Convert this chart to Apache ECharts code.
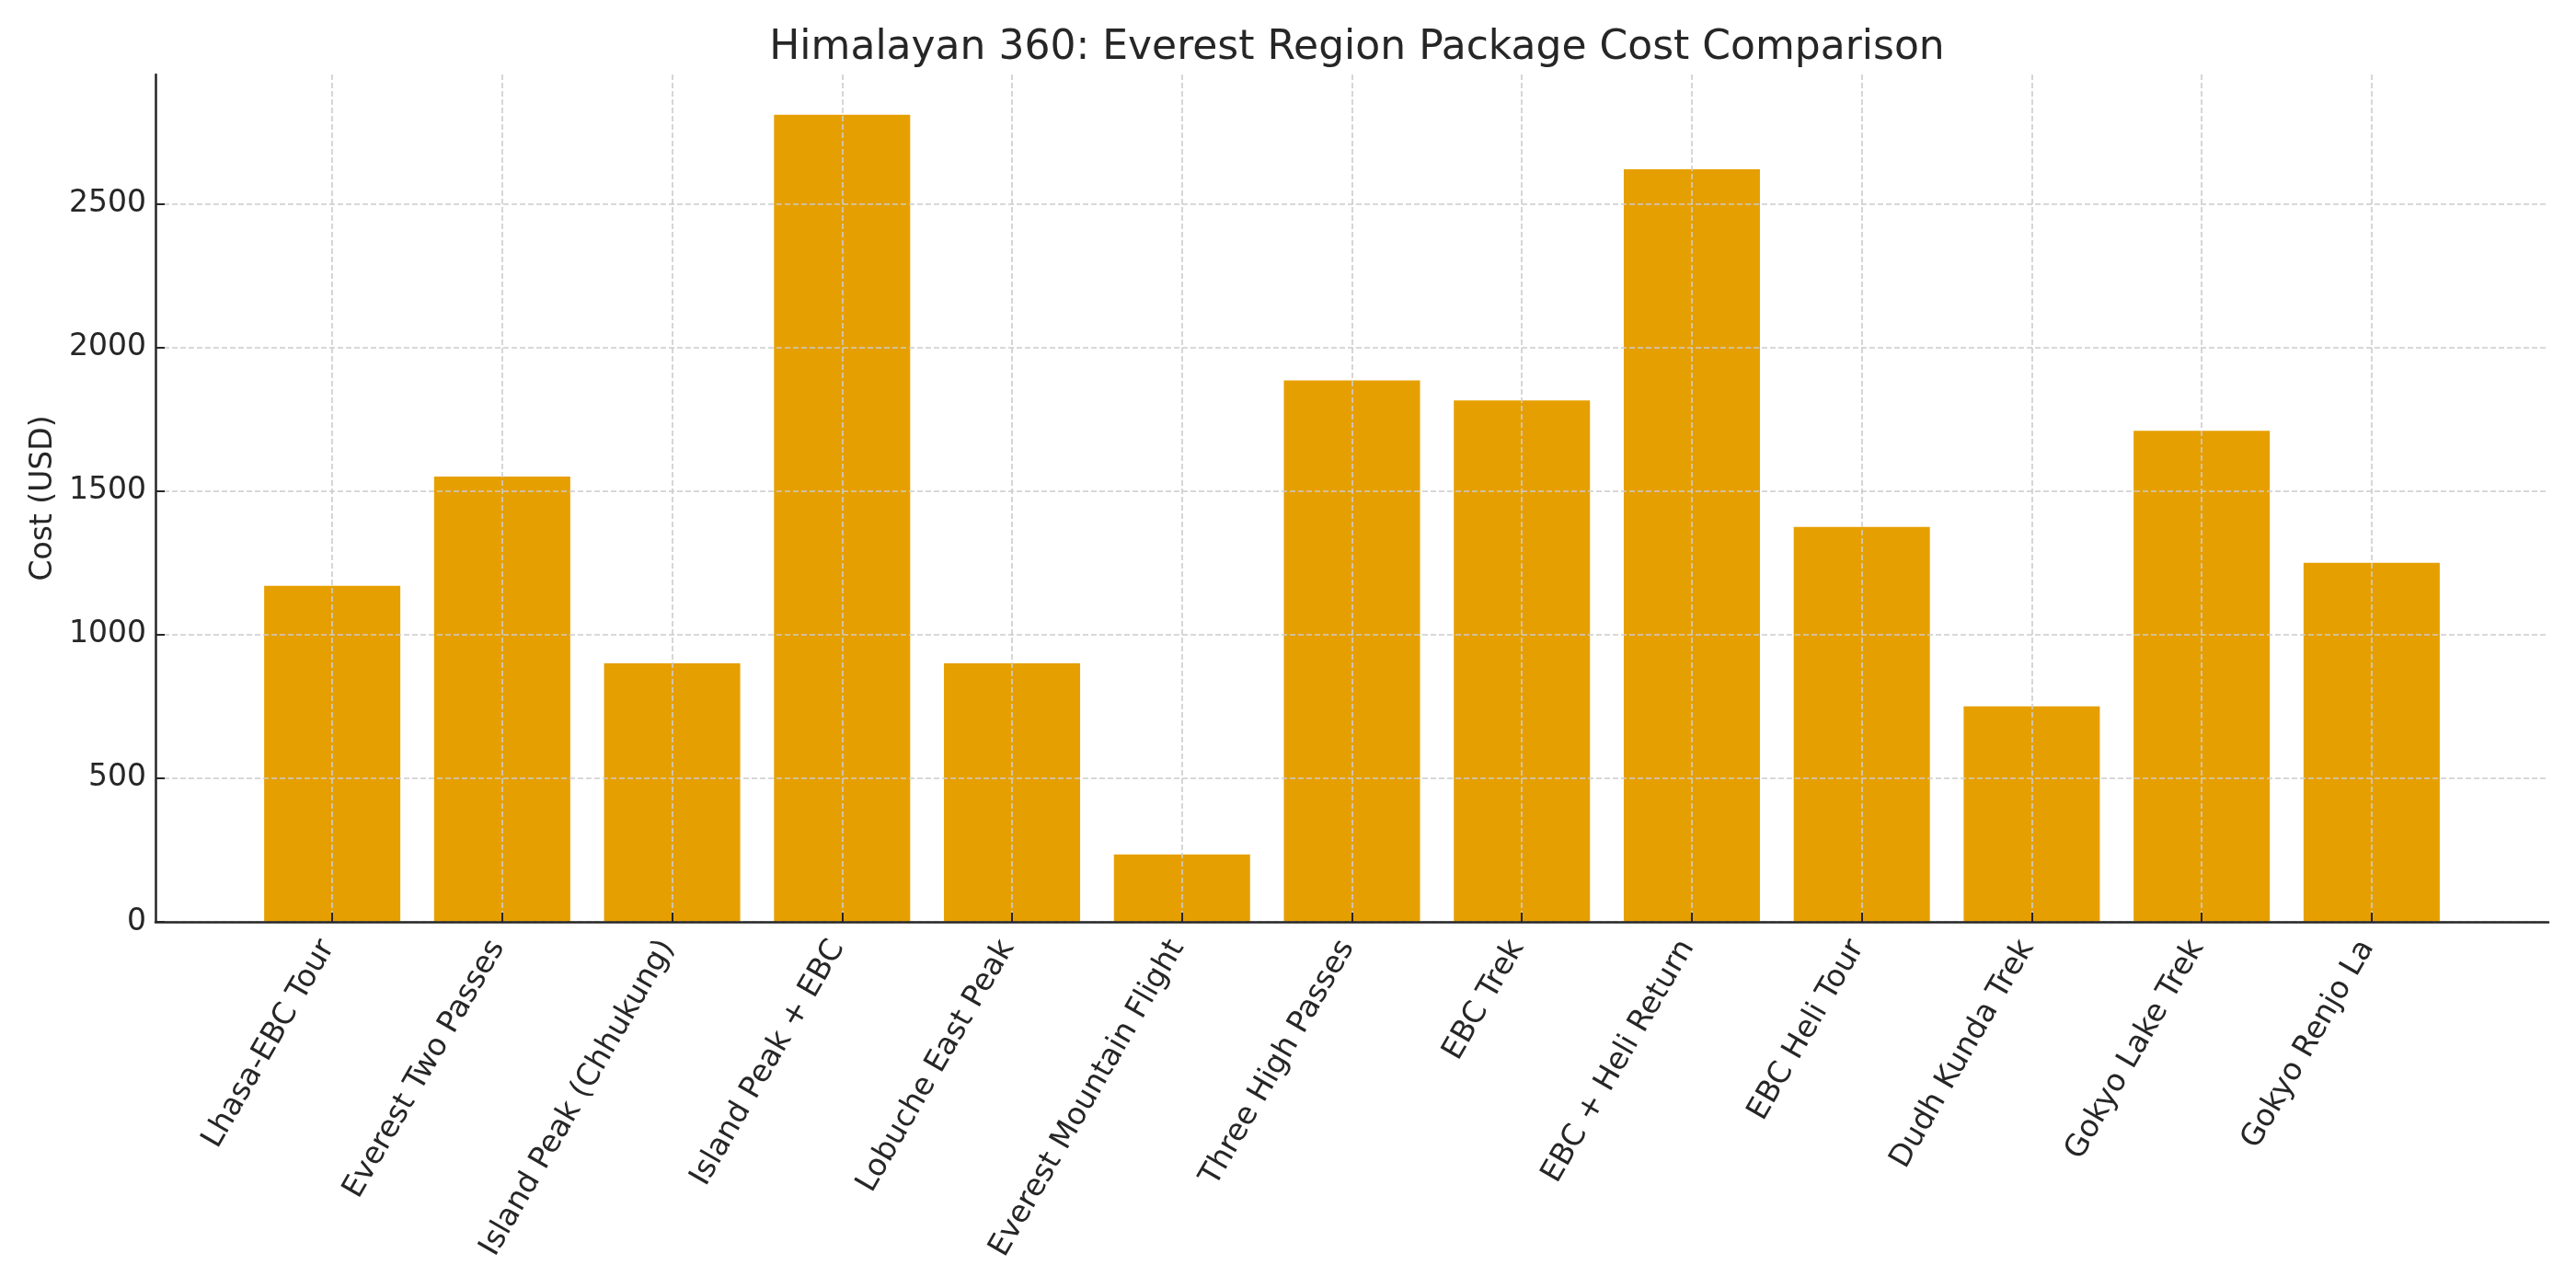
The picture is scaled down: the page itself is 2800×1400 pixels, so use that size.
<!DOCTYPE html>
<html>
<head>
<meta charset="utf-8">
<title>Everest Region Package Cost Comparison</title>
<script src="https://cdn.jsdelivr.net/npm/echarts@6/dist/echarts.min.js"></script>
<style>
  html, body { margin: 0; padding: 0; background: #fff; }
  #chart { width: 2800px; height: 1400px; }
</style>
</head>
<body>
<div id="chart"></div>
<script>
// package names, left to right
const packages = [
  'Lhasa-EBC Tour',
  'Everest Two Passes',
  'Island Peak (Chhukung)',
  'Island Peak + EBC',
  'Lobuche East Peak',
  'Everest Mountain Flight',
  'Three High Passes',
  'EBC Trek',
  'EBC + Heli Return',
  'EBC Heli Tour',
  'Dudh Kunda Trek',
  'Gokyo Lake Trek',
  'Gokyo Renjo La'
];
// cost in USD
const costs = [1170, 1550, 900, 2810, 900, 235, 1885, 1815, 2620, 1375, 750, 1710, 1250];
// y tick labels
const costTicks = [0, 500, 1000, 1500, 2000, 2500];

const positions = packages.map((p, i) => i);
const font = 'DejaVu Sans';
const textColor = '#262626';

const chart = echarts.init(document.getElementById('chart'), null, { renderer: 'canvas' });

const option = {
  backgroundColor: '#ffffff',
  animation: false,
  title: {
    text: 'Himalayan 360: Everest Region Package Cost Comparison',
    left: 1470,
    textAlign: 'center',
    top: 26,
    textStyle: { fontFamily: font, fontSize: 44, fontWeight: 'normal', color: textColor }
  },
  grid: { left: 169, right: 30, top: 81, bottom: 398, containLabel: false },
  xAxis: {
    type: 'value',
    min: -1.04,
    max: 13.04,
    z: 3,
    axisLine: { show: true, onZero: false, lineStyle: { color: '#262626', width: 2.5 } },
    axisTick: {
      show: true, inside: true, length: 10,
      customValues: positions,
      lineStyle: { color: '#262626', width: 2 }
    },
    axisLabel: {
      customValues: positions,
      rotate: 60,
      margin: 14,
      padding: [0, 10, 0, 0],
      fontFamily: font, fontSize: 33, color: textColor,
      formatter: function (v) { return packages[Math.round(v)]; }
    },
    splitLine: { show: true, lineStyle: { color: '#cccccc', width: 1.6, type: [6, 3] } }
  },
  yAxis: {
    type: 'value',
    min: 0,
    max: 2950,
    z: 3,
    name: 'Cost (USD)',
    nameLocation: 'middle',
    nameGap: 100,
    nameRotate: 90,
    nameTextStyle: { fontFamily: font, fontSize: 33, color: textColor },
    axisLine: { show: true, onZero: false, lineStyle: { color: '#262626', width: 2.5 } },
    axisTick: {
      show: true, inside: true, length: 10,
      customValues: costTicks,
      lineStyle: { color: '#262626', width: 2 }
    },
    axisLabel: {
      customValues: costTicks,
      margin: 10,
      fontFamily: font, fontSize: 33, color: textColor,
      formatter: function (v) { return String(v); }
    },
    splitLine: { show: true, lineStyle: { color: '#cccccc', width: 1.6, type: [6, 3] } }
  },
  series: [{
    type: 'bar',
    data: positions.map((x, i) => [x, costs[i]]),
    barWidth: 148,
    itemStyle: { color: '#E69F00' }
  }]
};

chart.setOption(option);
</script>
</body>
</html>
